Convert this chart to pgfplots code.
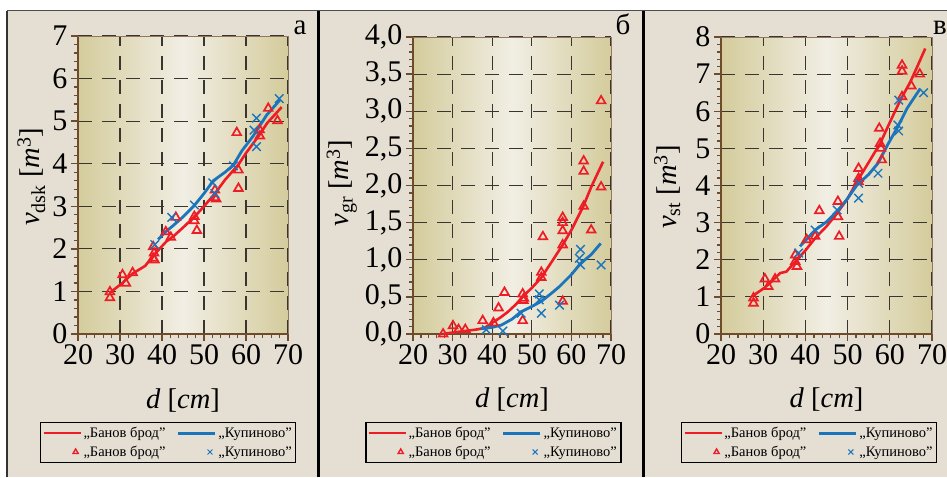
\documentclass[border=0pt]{standalone}
\usepackage{fontspec}
\setmainfont{Liberation Serif}
\usepackage{pgfplots}
\pgfplotsset{compat=1.18}
\definecolor{bg}{HTML}{E4DED3}
\definecolor{khaki}{HTML}{D4CC9C}
\definecolor{lightc}{HTML}{F1EEE4}
\definecolor{axbrown}{HTML}{6E4B2A}
\definecolor{myred}{HTML}{EE1C25}
\definecolor{myblue}{HTML}{1B75BC}
\definecolor{gridc}{HTML}{3A3530}
\pgfplotsset{
 panel/.style={
   scale only axis,
   anchor=south west,
   axis x line*=bottom, axis y line*=left,
   xmin=20, xmax=70, xtick={20,30,...,70},
   minor x tick num=4, minor y tick num=4,
   tick align=outside,
   major tick length=7pt, minor tick length=4pt,
   every tick/.style={axbrown, line width=1.3pt},
   axis line style={axbrown, line width=1.8pt},
   xmajorgrids, ymajorgrids,
   major grid style={gridc, line width=1.1pt, dash pattern=on 14pt off 10pt},
   axis background/.style={left color=khaki, right color=khaki, middle color=lightc},
   tick label style={font=\fontsize{30}{32}\selectfont},
   label style={font=\fontsize{28.5}{30}\selectfont},
   /pgf/number format/assume math mode=true,
   legend columns=2,
   legend cell align=left,
   legend style={font=\fontsize{14.5}{16}\selectfont, draw=black, line width=1.5pt, fill=bg,
     anchor=north west, inner xsep=2pt, inner ysep=2.5pt, row sep=3pt,
     /tikz/every even column/.append style={column sep=9pt}},
   xlabel={\textit{d} [\textit{cm}]},
   xlabel style={at={(axis description cs:0.5,-0.222)}, anchor=center},
   extra description/.code={\draw[axbrown!75, line width=1pt] (rel axis cs:0,1) -- (rel axis cs:1,1) -- (rel axis cs:1,0);},
 },
 lineleg/.style={legend image code/.code={\draw[##1] (0pt,0pt) -- (37pt,0pt);}},
 markleg/.style={legend image code/.code={\path[draw=none, fill=none] (0pt,0pt) -- (37pt,0pt); \draw[##1] plot coordinates {(32pt,0pt)};}},
 redline/.style={myred, line width=2.6pt, no marks},
 blueline/.style={myblue, line width=2.8pt, no marks},
 redmarks/.style={only marks, mark=triangle, mark size=5pt, myred, line width=1.7pt},
 bluemarks/.style={only marks, mark=x, mark size=6pt, myblue, line width=1.4pt},
}
\begin{document}
\begin{tikzpicture}[x=1pt,y=1pt]
\path[use as bounding box] (0,0) rectangle (947,477);
\fill[white] (0,0) rectangle (947,477);
\fill[bg] (7,0) rectangle (947,466);
\draw[black!70, line width=1pt] (7,466) -- (947,466);
\draw[black!80, line width=1.8pt] (7,0) -- (7,466);
\draw[black, line width=2.6pt] (318.5,0) -- (318.5,466);
\draw[black, line width=2.6pt] (643.5,0) -- (643.5,466);

% ---------- panel a ----------
\begin{axis}[panel, at={(78pt,143pt)}, width=210pt, height=298pt,
  ymin=0, ymax=7, ytick={0,1,...,7},
  ylabel={\textit{v}\textsubscript{dsk} [\textit{m}\textsuperscript{3}]},
  ylabel style={at={(axis description cs:-0.222,0.527)}, anchor=center},
  legend style={at={(-0.181,-0.295)}}]
\addplot[redmarks, forget plot] coordinates {
(27.6,0.99)(27.6,0.85)(30.6,1.39)(31.4,1.19)(33.0,1.44)(37.9,2.05)(37.9,1.78)(38.1,1.90)(38.2,1.74)
(40.9,2.40)(42.1,2.27)(43.3,2.74)(47.7,2.76)(47.7,2.66)(48.3,2.43)(52.6,3.38)(52.6,3.20)(52.9,3.17)
(57.8,4.73)(58.2,3.85)(58.2,3.42)(63.2,4.80)(63.3,4.65)(65.3,5.30)(67.5,5.01)};
\addplot[bluemarks, forget plot] coordinates {
(38.3,2.10)(42.3,2.74)(47.7,3.03)(52.1,3.55)(52.6,3.30)(57.0,3.95)(62.5,5.07)(61.9,4.79)(62.5,4.40)(67.9,5.53)};
\addplot[redline, forget plot] coordinates {
(27.6,0.97)(30.6,1.20)(33,1.42)(36,1.60)(38,1.85)(41,2.17)(43,2.32)(45,2.50)(48,2.78)(50,3.00)
(52.6,3.30)(55,3.62)(58.2,3.98)(60,4.25)(63,4.65)(65,4.95)(68.5,5.33)};
\addplot[blueline, forget plot] coordinates {
(39.1,2.22)(40.5,2.37)(42.7,2.55)(45,2.75)(47.7,3.02)(50,3.30)(52.2,3.60)(55,3.80)(57,3.97)
(59,4.30)(61.7,4.65)(64.9,5.14)(68.1,5.50)};
\addlegendimage{myred, line width=1.8pt, lineleg}
\addlegendentry{„Банов брод”}
\addlegendimage{myblue, line width=3pt, lineleg}
\addlegendentry{„Купиново”}
\addlegendimage{only marks, mark=triangle, mark size=3pt, myred, line width=1.4pt, markleg}
\addlegendentry{„Банов брод”}
\addlegendimage{only marks, mark=x, mark size=3.5pt, myblue, line width=1pt, markleg}
\addlegendentry{„Купиново”}
\end{axis}

% ---------- panel b ----------
\begin{axis}[panel, at={(413pt,143pt)}, width=198pt, height=297pt,
  ymin=0, ymax=4, ytick={0,0.5,...,4},
  yticklabel style={/pgf/number format/.cd, fixed, fixed zerofill, precision=1, use comma},
  ylabel={\textit{v}\textsubscript{gr} [\textit{m}\textsuperscript{3}]},
  ylabel style={at={(axis description cs:-0.36,0.508)}, anchor=center},
  legend style={at={(-0.242,-0.296)}}]
\addplot[redmarks, forget plot] coordinates {
(27.6,0.00)(30.1,0.11)(31.5,0.06)(33.2,0.06)(37.6,0.18)(40.3,0.15)(41.6,0.35)(43.1,0.56)
(47.7,0.54)(47.9,0.45)(48.0,0.48)(47.7,0.18)(52.4,0.83)(52.4,0.76)(52.8,1.31)(57.8,0.44)
(57.8,1.20)(57.8,1.39)(57.8,1.50)(57.8,1.57)(63.1,2.33)(63.1,2.19)(63.1,1.72)(65.0,1.40)(67.5,1.98)(67.5,3.14)};
\addplot[bluemarks, forget plot] coordinates {
(38.5,0.06)(42.7,0.04)(47.3,0.28)(51.9,0.54)(51.9,0.46)(52.4,0.28)(57.0,0.39)(62.3,1.14)(62.0,1.02)(62.3,0.93)(67.5,0.93)};
\addplot[redline, forget plot] coordinates {
(27.6,0.0)(30,0.02)(33,0.04)(36,0.06)(38,0.08)(40,0.15)(42,0.22)(44,0.30)(46,0.40)(48,0.52)
(50,0.62)(52.4,0.76)(55,0.97)(57.8,1.20)(60,1.40)(63,1.72)(65,1.98)(68,2.32)};
\addplot[blueline, forget plot] coordinates {
(37.2,0.07)(40,0.09)(42.3,0.12)(45,0.20)(47.3,0.30)(50,0.37)(52.4,0.44)(55,0.55)(57,0.64)
(60,0.80)(62.3,0.95)(65,1.07)(67.4,1.22)};
\addlegendimage{myred, line width=1.8pt, lineleg}
\addlegendentry{„Банов брод”}
\addlegendimage{myblue, line width=3pt, lineleg}
\addlegendentry{„Купиново”}
\addlegendimage{only marks, mark=triangle, mark size=3pt, myred, line width=1.4pt, markleg}
\addlegendentry{„Банов брод”}
\addlegendimage{only marks, mark=x, mark size=3.5pt, myblue, line width=1pt, markleg}
\addlegendentry{„Купиново”}
\end{axis}

% ---------- panel v ----------
\begin{axis}[panel, at={(721pt,143pt)}, width=211pt, height=297pt,
  ymin=0, ymax=8, ytick={0,1,...,8},
  ylabel={\textit{v}\textsubscript{st} [\textit{m}\textsuperscript{3}]},
  ylabel style={at={(axis description cs:-0.255,0.495)}, anchor=center},
  legend style={at={(-0.190,-0.296)}}]
\addplot[redmarks, forget plot] coordinates {
(27.7,0.97)(27.7,0.83)(30.4,1.48)(31.2,1.28)(32.8,1.48)(37.6,2.13)(37.6,1.95)(38.0,1.82)
(40.3,2.54)(42.3,2.63)(43.3,3.32)(47.7,3.57)(47.7,3.16)(48.0,2.63)(52.6,4.46)(52.6,4.19)(52.6,4.10)
(57.5,5.54)(57.7,5.13)(57.9,5.00)(58.1,4.69)(62.9,7.24)(62.9,7.08)(62.9,6.39)(65.1,6.68)(67.1,7.00)};
\addplot[bluemarks, forget plot] coordinates {
(38.4,2.18)(42.3,2.80)(47.5,3.34)(52.6,4.06)(52.6,3.66)(57.2,4.33)(62.1,6.30)(61.9,5.63)(62.1,5.47)(68.0,6.50)};
\addplot[redline, forget plot] coordinates {
(27.3,1.01)(30,1.22)(31.2,1.33)(34,1.64)(35.5,1.68)(38,2.00)(40,2.25)(42.3,2.58)(45,2.90)
(47.5,3.25)(50,3.65)(52.2,4.10)(54.6,4.55)(57.7,5.13)(60,5.70)(62.5,6.30)(64.9,6.80)(66.5,7.20)(68.4,7.69)};
\addplot[blueline, forget plot] coordinates {
(38.7,2.36)(42.3,2.80)(45.1,3.03)(47.8,3.34)(50,3.65)(52.2,4.01)(55,4.30)(57.2,4.60)(59.5,5.10)
(61.7,5.54)(64.1,6.08)(67.2,6.61)};
\addlegendimage{myred, line width=1.8pt, lineleg}
\addlegendentry{„Банов брод”}
\addlegendimage{myblue, line width=3pt, lineleg}
\addlegendentry{„Купиново”}
\addlegendimage{only marks, mark=triangle, mark size=3pt, myred, line width=1.4pt, markleg}
\addlegendentry{„Банов брод”}
\addlegendimage{only marks, mark=x, mark size=3.5pt, myblue, line width=1pt, markleg}
\addlegendentry{„Купиново”}
\end{axis}

\node[anchor=base, font=\fontsize{29}{30}\selectfont] at (300,442) {а};
\node[anchor=base, font=\fontsize{29}{30}\selectfont] at (623,442) {б};
\node[anchor=base, font=\fontsize{29}{30}\selectfont] at (940,442) {в};
\end{tikzpicture}
\end{document}
